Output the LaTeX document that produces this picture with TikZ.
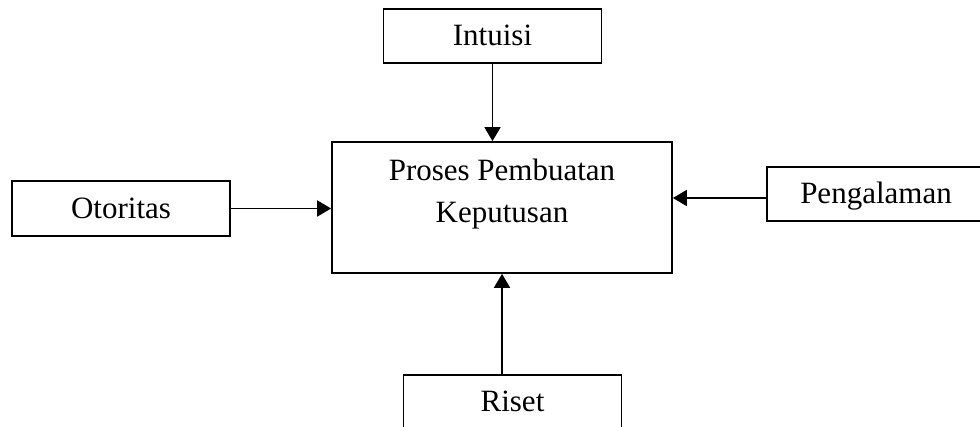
\documentclass[tikz,border=0pt]{standalone}
\usepackage{fontspec}
\setmainfont{Liberation Serif}
\usetikzlibrary{arrows.meta,positioning}
\tikzset{flow/.style={
  x=1pt,y=-1pt,
  >={Triangle[length=14pt,width=16pt]},line join=miter
},
  txt/.style={font=\fontsize{31}{42}\selectfont},
  box/.style={draw,rectangle,line width=1.7pt,inner sep=0pt,txt,
    text height=20pt,text depth=0pt,minimum width=218pt,minimum height=54pt},
  link/.style={->,line width=1.8pt}
}

\begin{document}
\begin{tikzpicture}[flow]
  \useasboundingbox (0,0) rectangle (980,427);
  \node[box,minimum width=340pt,minimum height=131pt,
    label={[txt,align=center,anchor=north,inner sep=0pt,yshift=-17.5pt]north:Proses Pembuatan\\Keputusan}]
    (proses) at (502,207.5) {};
  \node[box] (intuisi) at (492.5,36) {Intuisi};
  \node[box,minimum height=55pt] (otoritas) at (121,208.5) {Otoritas};
  \node[box] (pengalaman) at (876,194) {Pengalaman};
  \node[box] (riset) at (512.5,402) {Riset};
  \coordinate (pgin) at ([yshift=-4pt]pengalaman.west);
  \draw[link] (intuisi.south) -- (intuisi.south |- proses.north);
  \draw[link] (otoritas.east) -- (proses.west |- otoritas.east);
  \draw[link] (pgin) -- (proses.east |- pgin);
  \draw[link] (riset.north -| proses.south) -- (proses.south);
\end{tikzpicture}
\end{document}
